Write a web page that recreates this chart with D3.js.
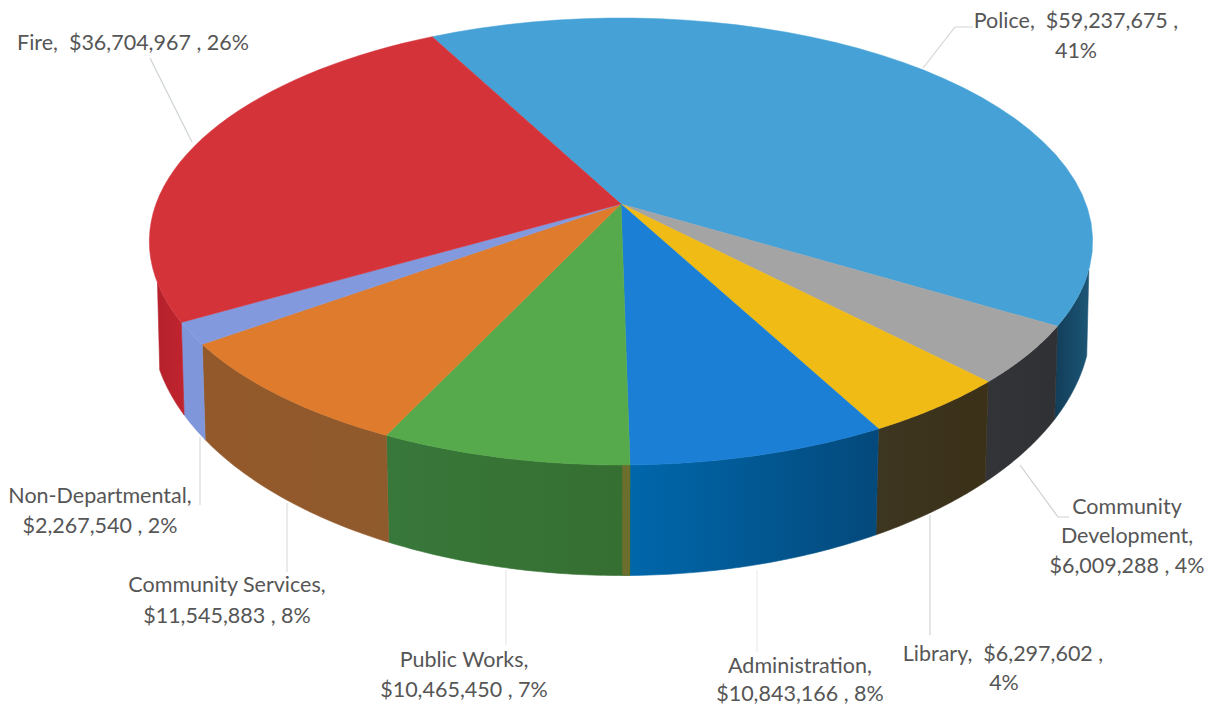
<!DOCTYPE html>
<html>
<head>
<meta charset="utf-8">
<title>General Fund expenditures by department</title>
<script src="https://cdn.jsdelivr.net/npm/d3@7/dist/d3.min.js"></script>
<style>
  html, body { margin: 0; background: #fff; }
  svg { display: block; }
  text { font-family: Lato, "Open Sans", sans-serif; font-size: 21.5px; fill: #565656; text-anchor: middle; }
</style>
</head>
<body>
<svg id="chart" width="1211" height="706"></svg>
<script>
// Departments in clockwise order, beginning with the largest slice.
const departments = ["Police", "Community Development", "Library", "Administration",
  "Public Works", "Community Services", "Non-Departmental", "Fire"];
const budgets = [59237675, 6009288, 6297602, 10843166, 10465450, 11545883, 2267540, 36704967];

const topColors = ["#46a2d6", "#a4a4a4", "#f0bb14", "#1b7fd6", "#56aa4b", "#de7b2c", "#8299dd", "#d4333a"];
const sideColorsLeft = ["#123d58", "#333437", "#3d3620", "#0067ab", "#38783a", "#94592b", "#7f97da", "#b5212c"];
const sideColorsRight = ["#1c5676", "#2f3134", "#3b3018", "#04497b", "#356f31", "#8f5a2c", "#7f97da", "#c0242e"];

// Projection of the disc: perspective-foreshortened rim for the top face and the lower edge.
const topRim = { cx: 621, cy: 204, a: 465, b: 217.2, k: 0.1677 };
const lowRim = { cx: 621, cy: 280.4, a: 464, b: 247.9, k: 0.16 };
const project = (rim, t, r = 1) => {
  const den = 1 + rim.k * r * Math.cos(t);
  return [rim.cx + rim.a * r * Math.sin(t) / den, rim.cy - rim.b * r * Math.cos(t) / den];
};

// Angles of the silhouette, where the wall of the disc disappears behind the top face.
const rad = d3.scaleLinear().domain([0, 360]).range([0, 2 * Math.PI]);
const wallFrom = rad(106.8), wallTo = rad(250);

const arcs = d3.pie().sort(null)
  .startAngle(rad(-27.8)).endAngle(rad(332.2))(budgets);

const total = d3.sum(budgets);
const money = d3.format("$,");
const pct = d3.format(".0%");

const svg = d3.select("#chart");
const defs = svg.append("defs");
const line = d3.line();
const samples = (a, b) => d3.range(0, 41).map(i => a + (b - a) * i / 40);

// Wall of the disc, one band per slice.
const wall = svg.append("g");
arcs.forEach((d, i) => {
  const s = Math.max(d.startAngle, wallFrom), e = Math.min(d.endAngle, wallTo);
  if (s >= e) return;
  const ts = samples(s, e);
  const pts = ts.map(t => project(topRim, t)).concat(ts.slice().reverse().map(t => project(lowRim, t)));
  const xs = d3.extent(pts, p => p[0]);
  const id = "wall" + i;
  const g = defs.append("linearGradient").attr("id", id)
    .attr("gradientUnits", "userSpaceOnUse")
    .attr("x1", xs[0]).attr("x2", xs[1]).attr("y1", 0).attr("y2", 0);
  g.append("stop").attr("offset", 0).attr("stop-color", sideColorsLeft[i]);
  g.append("stop").attr("offset", 1).attr("stop-color", sideColorsRight[i]);
  wall.append("path").attr("d", line(pts) + "Z")
    .attr("fill", `url(#${id})`).attr("stroke", `url(#${id})`).attr("stroke-width", 0.6);
});

// Olive seam where the Public Works wall meets Administration.
const seamAt = arcs[4].startAngle;
wall.append("path")
  .attr("d", line(samples(seamAt, seamAt + rad(0.8)).map(t => project(topRim, t))
    .concat(samples(seamAt + rad(0.8), seamAt).map(t => project(lowRim, t)))) + "Z")
  .attr("fill", "#6b6e2c");

// Top face.
svg.append("g").selectAll("path").data(arcs).join("path")
  .attr("d", d => line([[topRim.cx, topRim.cy], ...samples(d.startAngle, d.endAngle).map(t => project(topRim, t))]) + "Z")
  .attr("fill", (d, i) => topColors[i])
  .attr("stroke", (d, i) => topColors[i])
  .attr("stroke-width", 0.5);

// Leader lines and labels, in the same order as the departments.
const labelLayout = [
  { lines: [["{n},  {v} ,", 1076, 28], ["{p}", 1076, 58]],
    leader: [[973, 27], [955, 27], [923, 68]], stroke: "#d4d4d4" },
  { lines: [["Community", 1127, 514], ["Development,", 1127, 543], ["{v} , {p}", 1127, 573]],
    leader: [[1020, 465], [1058, 517], [1069, 517]], stroke: "#cfcfcf" },
  { lines: [["{n},  {v} ,", 1003, 661], ["{p}", 1004, 690]],
    leader: [[930, 515], [930, 635]], stroke: "#d4d4d4" },
  { lines: [["{n},", 800, 673], ["{v} , {p}", 800, 701]],
    leader: [[757, 570], [757, 652]], stroke: "#ececec" },
  { lines: [["{n},", 464, 667], ["{v} , {p}", 464, 697]],
    leader: [[506, 570], [506, 645]], stroke: "#e8e8e8" },
  { lines: [["{n},", 227, 592], ["{v} , {p}", 227, 623]],
    leader: [[287, 503], [287, 572]], stroke: "#dedede" },
  { lines: [["{n},", 100, 503], ["{v} , {p}", 100, 533]],
    leader: [[200, 437], [200, 505]], stroke: "#dadada" },
  { lines: [["{n},  {v} , {p}", 133, 50]],
    leader: [[150, 58], [192, 142]], stroke: "#cfd4d8" }
];

const labels = svg.append("g");
labelLayout.forEach((layout, i) => {
  labels.append("path").attr("d", line(layout.leader))
    .attr("fill", "none").attr("stroke", layout.stroke).attr("stroke-width", 1.2);
  layout.lines.forEach(([template, x, y]) => {
    labels.append("text").attr("x", x).attr("y", y)
      .style("white-space", "pre")
      .text(template.replace("{n}", departments[i])
        .replace("{v}", money(budgets[i]))
        .replace("{p}", pct(budgets[i] / total)));
  });
});
</script>
</body>
</html>
